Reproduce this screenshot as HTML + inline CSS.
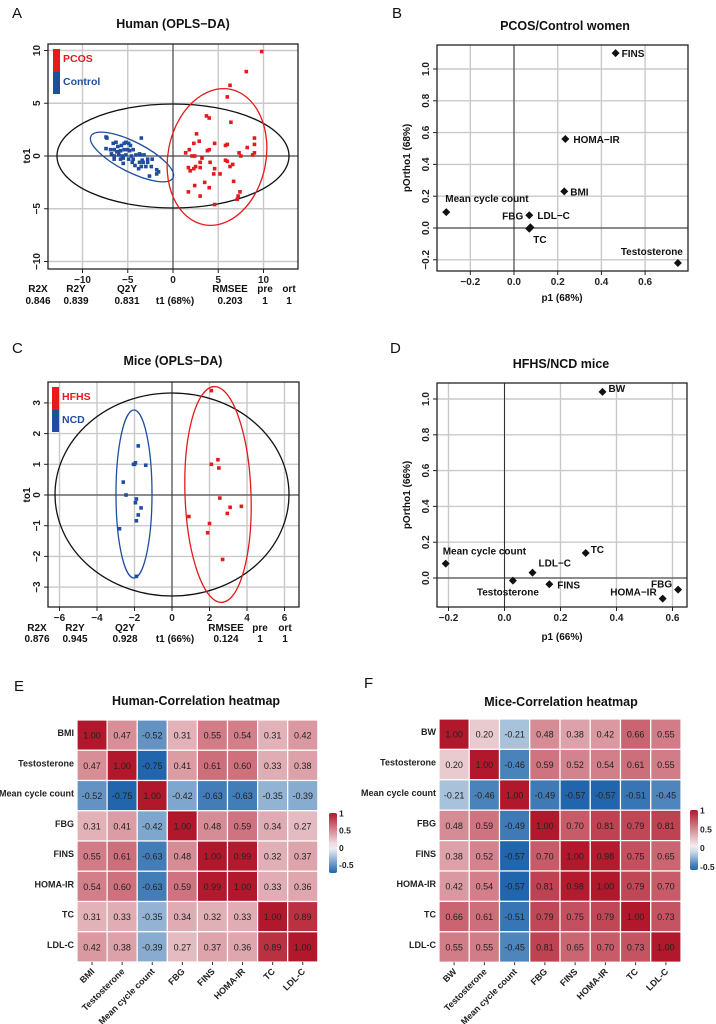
<!DOCTYPE html>
<html><head><meta charset="utf-8"><style>
html,body{margin:0;padding:0;background:#fff;}
svg{display:block;font-family:"Liberation Sans",Arial,sans-serif;}
</style></head><body>
<svg id="fig" width="716" height="1024" viewBox="0 0 716 1024" xmlns="http://www.w3.org/2000/svg"></svg>
<script>
// ---------- DATA ----------
const aBlueX=[-7.4,-7.3,-6.6,-6.3,-6.1,-5.7,-5.4,-5.2,-4.9,-4.7,-3.5,-7.4,-6.9,-6.5,-6.2,-5.8,-5.4,-5.0,-4.8,-4.4,-3.7,-6.8,-6.5,-6.0,-5.6,-5.2,-4.6,-4.1,-3.6,-3.2,-6.5,-5.8,-5.5,-4.9,-4.4,-3.4,-2.8,-2.3,-5.5,-4.5,-3.7,-3.3,-2.8,-3.5,-3.0,-2.4,-3.8,-1.8,-1.6,-2.6,-1.8,-6.0,-4.2];
const aBlueY=[1.8,1.7,1.2,1.3,0.9,1.0,1.2,1.3,1.2,1.0,1.7,0.7,0.6,0.6,0.4,0.5,0.6,0.6,0.5,0.6,0.2,0.2,0,0.1,0,0.1,0,0.1,0.1,0.1,-0.3,-0.3,-0.2,-0.3,-0.3,-0.4,-0.3,-0.3,-0.7,-0.6,-0.6,-0.6,-0.6,-1.0,-1.0,-1.0,-1.2,-1.3,-1.5,-1.9,-1.7,0.4,-0.9];
const aRedX=[9.8,8.1,6.3,6.0,3.7,4.0,6.4,2.6,9.0,2.9,6.0,2.3,4.6,5.8,9.0,8.2,3.8,4.0,1.4,1.8,7.3,8.8,9.0,2.1,2.4,7.5,3.2,5.8,6.0,4.1,6.6,3.0,1.7,2.3,2.5,3.0,4.6,1.9,6.3,4.5,5.2,6.7,3.5,2.4,4.0,1.7,7.4,3.0,7.2,7.1,4.6];
const aRedY=[9.9,8.0,6.7,5.6,3.8,3.6,3.2,2.1,1.7,1.4,1.1,1.2,1.2,1.0,1.1,0.8,0.5,0.6,0.3,0.6,0.3,0.1,0.3,0,0,0,-0.2,-0.4,-0.5,-0.6,-0.8,-0.6,-1.1,-1.2,-1.0,-1.1,-1.2,-1.4,-1.0,-1.7,-1.7,-2.4,-2.5,-2.8,-3.0,-3.4,-3.4,-3.8,-3.8,-4.1,-4.6];
const bLabels=["FINS","HOMA\u2212IR","BMI","Mean cycle count","FBG","LDL\u2212C","TC","Testosterone"];
const bX=[0.465,0.235,0.23,-0.31,0.07,0.075,0.07,0.75];
const bY=[1.1,0.56,0.23,0.10,0.08,0.005,-0.005,-0.22];
const cBlueX=[-1.8,-2.0,-1.95,-2.05,-1.4,-2.6,-2.45,-1.9,-1.95,-1.65,-1.8,-1.9,-2.8,-1.9];
const cBlueY=[1.6,1.0,1.05,1.0,0.97,0.42,0,-0.13,-0.25,-0.42,-0.65,-0.84,-1.1,-2.65];
const cRedX=[2.1,2.45,2.1,2.5,2.55,3.1,3.7,2.95,0.9,2.0,1.9,2.7];
const cRedY=[3.4,1.15,1.0,0.88,-0.1,-0.4,-0.37,-0.6,-0.7,-0.93,-1.23,-2.1];
const dLabels=["BW","TC","Mean cycle count","LDL\u2212C","Testosterone","FINS","FBG","HOMA\u2212IR"];
const dX=[0.35,0.29,-0.21,0.10,0.03,0.16,0.62,0.565];
const dY=[1.04,0.14,0.08,0.03,-0.015,-0.035,-0.065,-0.115];
const eVars=["BMI","Testosterone","Mean cycle count","FBG","FINS","HOMA-IR","TC","LDL-C"];
const eVals=[
[1.00,0.47,-0.52,0.31,0.55,0.54,0.31,0.42],
[0.47,1.00,-0.75,0.41,0.61,0.60,0.33,0.38],
[-0.52,-0.75,1.00,-0.42,-0.63,-0.63,-0.35,-0.39],
[0.31,0.41,-0.42,1.00,0.48,0.59,0.34,0.27],
[0.55,0.61,-0.63,0.48,1.00,0.99,0.32,0.37],
[0.54,0.60,-0.63,0.59,0.99,1.00,0.33,0.36],
[0.31,0.33,-0.35,0.34,0.32,0.33,1.00,0.89],
[0.42,0.38,-0.39,0.27,0.37,0.36,0.89,1.00]];
const fVars=["BW","Testosterone","Mean cycle count","FBG","FINS","HOMA-IR","TC","LDL-C"];
const fVals=[
[1.00,0.20,-0.21,0.48,0.38,0.42,0.66,0.55],
[0.20,1.00,-0.46,0.59,0.52,0.54,0.61,0.55],
[-0.21,-0.46,1.00,-0.49,-0.57,-0.57,-0.51,-0.45],
[0.48,0.59,-0.49,1.00,0.70,0.81,0.79,0.81],
[0.38,0.52,-0.57,0.70,1.00,0.98,0.75,0.65],
[0.42,0.54,-0.57,0.81,0.98,1.00,0.79,0.70],
[0.66,0.61,-0.51,0.79,0.75,0.79,1.00,0.73],
[0.55,0.55,-0.45,0.81,0.65,0.70,0.73,1.00]];
const aTicks=[-10,-5,0,5,10];
const bXTicks=[-0.2,0,0.2,0.4,0.6];
const bYTicks=[-0.2,0,0.2,0.4,0.6,0.8,1.0];
const cXTicks=[-6,-4,-2,0,2,4,6];
const cYTicks=[-3,-2,-1,0,1,2,3];
const dXTicks=[-0.2,0,0.2,0.4,0.6];
const dYTicks=[0,0.2,0.4,0.6,0.8,1.0];
const legendTicks=[1,0.5,0,-0.5];

// ---------- HELPERS ----------
const NS="http://www.w3.org/2000/svg";
const svg=document.getElementById('fig');
function mk(tag,attrs,parent,text){const e=document.createElementNS(NS,tag);for(const k in attrs)e.setAttribute(k,attrs[k]);if(text!==undefined)e.textContent=text;(parent||svg).appendChild(e);return e;}
function lin(v0,p0,scale){return v=>p0+v*scale;}
function fmt(v,d){return (v<0?"\u2212":"")+Math.abs(v).toFixed(d);}

function frame(name,x0,y0,x1,y1,sx,sy,xt,yt,dec,gridX,gridY){
  const g=mk('g',{});
  
  
  gridX.forEach(v=>{const l=mk('line',{x1:sx(v),x2:sx(v),y1:y0,y2:y1,stroke:'#c9c9c9','stroke-width':1.4},g);});
  gridY.forEach(v=>{const l=mk('line',{x1:x0,x2:x1,y1:sy(v),y2:sy(v),stroke:'#c9c9c9','stroke-width':1.4},g);});
  mk('line',{x1:sx(0),x2:sx(0),y1:y0,y2:y1,stroke:'#333','stroke-width':1},g);
  mk('line',{x1:x0,x2:x1,y1:sy(0),y2:sy(0),stroke:'#333','stroke-width':1},g);
  const r=mk('rect',{x:x0,y:y0,width:x1-x0,height:y1-y0,fill:'none',stroke:'#222','stroke-width':1.3},g);
  
  xt.forEach(v=>{mk('line',{x1:sx(v),x2:sx(v),y1:y1,y2:y1+4,stroke:'#222'},g);
    const t=mk('text',{x:sx(v),y:y1+14,'font-size':10,'font-weight':'bold','text-anchor':'middle',fill:'#222'},g,fmt(v,dec));
    });
  yt.forEach(v=>{mk('line',{x1:x0-4,x2:x0,y1:sy(v),y2:sy(v),stroke:'#222'},g);
    const t=mk('text',{x:x0-8,y:sy(v),'font-size':10,'font-weight':'bold','text-anchor':'middle',fill:'#222',transform:`rotate(-90 ${x0-8} ${sy(v)})`},g,fmt(v,dec));
    });
  return g;
}
function txt(name,x,y,s,opts){const t=mk('text',Object.assign({x:x,y:y,'font-size':11,'font-weight':'bold','text-anchor':'middle',fill:'#111'},opts||{}),svg,s);return t;}
function letter(s,x,y){const t=mk('text',{x:x,y:y,'font-size':15,fill:'#111'},svg,s);}
function squares(xs,ys,sx,sy,col,name){xs.forEach((v,i)=>{const r=mk('rect',{x:sx(v)-1.8,y:sy(ys[i])-1.8,width:3.6,height:3.6,fill:col});});}
function ell(cx,cy,rx,ry,rot,col,name){const e=mk('ellipse',{cx:cx,cy:cy,rx:rx,ry:ry,fill:'none',stroke:col,'stroke-width':1.3,transform:`rotate(${rot} ${cx} ${cy})`});}
function legend(x,y,l1,l2){const a=mk('rect',{x:x,y:y,width:7,height:23,fill:'#e41a1c'});
  const b=mk('rect',{x:x,y:y+23,width:7,height:22,fill:'#1f4e9e'});
  txt('legend-label-1',x+10,y+13,l1,{'text-anchor':'start',fill:'#e41a1c','font-size':10.5});
  txt('legend-label-2',x+10,y+36,l2,{'text-anchor':'start',fill:'#1f4e9e','font-size':10.5});}
function stats(yh,yv,xs,heads,vals){heads.forEach((h,i)=>{if(h)txt('stats-header',xs[i],yh,h,{'font-size':10});txt('stats-value',xs[i],yv,vals[i],{'font-size':10});});}
function diamonds(xs,ys,labs,sx,sy,offs){xs.forEach((v,i)=>{const cx=sx(v),cy=sy(ys[i]);const p=mk('path',{d:`M${cx} ${cy-4}L${cx+4} ${cy}L${cx} ${cy+4}L${cx-4} ${cy}Z`,fill:'#111'});
  const o=offs[i];txt('point-label',cx+o[0],cy+o[1],labs[i],{'text-anchor':o[2],'font-size':10});});}

// ---------- PANEL A ----------
letter('A',12,18);
txt('panel-a-title',173,28,'Human (OPLS\u2212DA)',{'font-size':12.5});
const axA=lin(0,173,9.05), ayA=lin(0,156,-10.55);
frame('panel-a-plot',48,44,298,269,axA,ayA,aTicks,aTicks,0,aTicks,aTicks);
txt('panel-a-y-title',30,156,'to1',{'font-size':10,transform:'rotate(-90 30 156)'});
ell(axA(0),ayA(0),116,52,0,'#111','hotelling-ellipse');
ell(132,157,46,15,27,'#1f4e9e','control-ellipse');
ell(217,157,49,69,11,'#e41a1c','pcos-ellipse');
squares(aBlueX,aBlueY,axA,ayA,'#1f4e9e','control-point');
squares(aRedX,aRedY,axA,ayA,'#e41a1c','pcos-point');
legend(53,49,'PCOS','Control');
stats(292,304,[38,76,127,175,230,265,289],['R2X','R2Y','Q2Y','','RMSEE','pre','ort'],['0.846','0.839','0.831','t1 (68%)','0.203','1','1']);

// ---------- PANEL B ----------
letter('B',392,18);
txt('panel-b-title',565,30,'PCOS/Control women',{'font-size':12.5});
const axB=lin(0,514,218.5), ayB=lin(0,228,-159);
frame('panel-b-plot',437,45,688,271,axB,ayB,bXTicks,bYTicks,1,bXTicks,bYTicks);
txt('panel-b-x-title',562,301,'p1 (68%)',{'font-size':10});
txt('panel-b-y-title',410,158,'pOrtho1 (68%)',{'font-size':10,transform:'rotate(-90 410 158)'});
diamonds(bX,bY,bLabels,axB,ayB,[[6,4,'start'],[8,4,'start'],[6,4,'start'],[-1,-10,'start'],[-6,4,'end'],[7,-8,'start'],[4,14,'start'],[5,-8,'end']]);

// ---------- PANEL C ----------
letter('C',12,353);
txt('panel-c-title',173,365,'Mice (OPLS\u2212DA)',{'font-size':12.5});
const axC=lin(0,172,18.75), ayC=lin(0,495,-30.7);
frame('panel-c-plot',48,382,299,607,axC,ayC,cXTicks,cYTicks,0,cXTicks,cYTicks);
txt('panel-c-y-title',30,495,'to1',{'font-size':10,transform:'rotate(-90 30 495)'});
ell(axC(0),494.5,117,101.5,0,'#111','hotelling-ellipse');
ell(134,494,18,84,0,'#1f4e9e','ncd-ellipse');
ell(218,494.5,33,108,-2,'#e41a1c','hfhs-ellipse');
squares(cBlueX,cBlueY,axC,ayC,'#1f4e9e','ncd-point');
squares(cRedX,cRedY,axC,ayC,'#e41a1c','hfhs-point');
legend(52,387,'HFHS','NCD');
stats(631,642,[37,75,125,175,226,260,285],['R2X','R2Y','Q2Y','','RMSEE','pre','ort'],['0.876','0.945','0.928','t1 (66%)','0.124','1','1']);

// ---------- PANEL D ----------
letter('D',390,353);
txt('panel-d-title',561,368,'HFHS/NCD mice',{'font-size':12.5});
const axD=lin(0,504.5,280), ayD=lin(0,578,-179);
frame('panel-d-plot',437,383,687,607,axD,ayD,dXTicks,dYTicks,1,dXTicks,dYTicks);
txt('panel-d-x-title',562,640,'p1 (66%)',{'font-size':10});
txt('panel-d-y-title',410,495,'pOrtho1 (66%)',{'font-size':10,transform:'rotate(-90 410 495)'});
diamonds(dX,dY,dLabels,axD,ayD,[[6,0,'start'],[5,0,'start'],[-3,-9,'start'],[6,-6,'start'],[26,15,'end'],[8,4,'start'],[-6,-2,'end'],[-6,-3,'end']]);

// ---------- HEATMAPS ----------
function col(v,mn){const hi=[178,24,43],lo=[33,102,172],w=[247,247,247];let t,c;
  if(v>=0){t=Math.min(v,1);c=hi;}else{t=Math.min(v/mn,1);c=lo;}
  return `rgb(${w.map((x,i)=>Math.round(x+(c[i]-x)*t)).join(',')})`;}
function heatmap(name,vars,vals,x0,y0,cw,ch,title,tx,ty,lx,ly,lh){
  const mn=Math.min(...vals.flat());
  txt(name+'-title',tx,ty,title,{'font-size':12.5});
  const g=mk('g',{});
  vals.forEach((row,i)=>row.forEach((v,j)=>{
    const r=mk('rect',{x:x0+j*cw,y:y0+i*ch,width:cw,height:ch,fill:col(v,mn),stroke:'#fff','stroke-width':1.2},g);
    
    const t=mk('text',{x:x0+j*cw+cw/2,y:y0+i*ch+ch/2+3.5,'font-size':9,'text-anchor':'middle',fill:'#222'},g,v.toFixed(2));
    }));
  vars.forEach((s,i)=>{
    const t=mk('text',{x:x0-3,y:y0+i*ch+ch/2+1,'font-size':9,'font-weight':'bold','text-anchor':'end',fill:'#222'},svg,s);
    
    const cx=x0+i*cw+cw/2+3, cy=y0+vars.length*ch+10;
    mk('line',{x1:cx-3,x2:cx-3,y1:cy-10,y2:cy-7,stroke:'#333'});
    const c=mk('text',{x:cx,y:cy,'font-size':9,'font-weight':'bold','text-anchor':'end',fill:'#222',transform:`rotate(-45 ${cx} ${cy})`},svg,s);
    });
  const gid=name+'-grad';const defs=mk('defs',{});const lg=mk('linearGradient',{id:gid,x1:0,y1:0,x2:0,y2:1},defs);
  const topV=1,botV=mn<-0.6?-0.75:-0.6;
  for(let k=0;k<=10;k++){const v=topV+(botV-topV)*k/10;mk('stop',{offset:k/10,'stop-color':col(v,mn)},lg);}
  const cb=mk('rect',{x:lx,y:ly,width:8,height:lh,fill:`url(#${gid})`,rx:2});
  legendTicks.forEach(v=>{const yy=ly+(topV-v)/(topV-botV)*lh;
    const t=mk('text',{x:lx+10,y:yy+3.5,'font-size':8.5,'font-weight':'bold',fill:'#222'},svg,String(v));
    });
}
letter('E',14,691);
heatmap('human-heatmap',eVars,eVals,77,720,30.1,30.25,'Human-Correlation heatmap',196,705,329,813,60);
letter('F',364,688);
heatmap('mice-heatmap',fVars,fVals,439,719,30.25,30.4,'Mice-Correlation heatmap',561,706,690,810,60);
</script>
</body></html>
